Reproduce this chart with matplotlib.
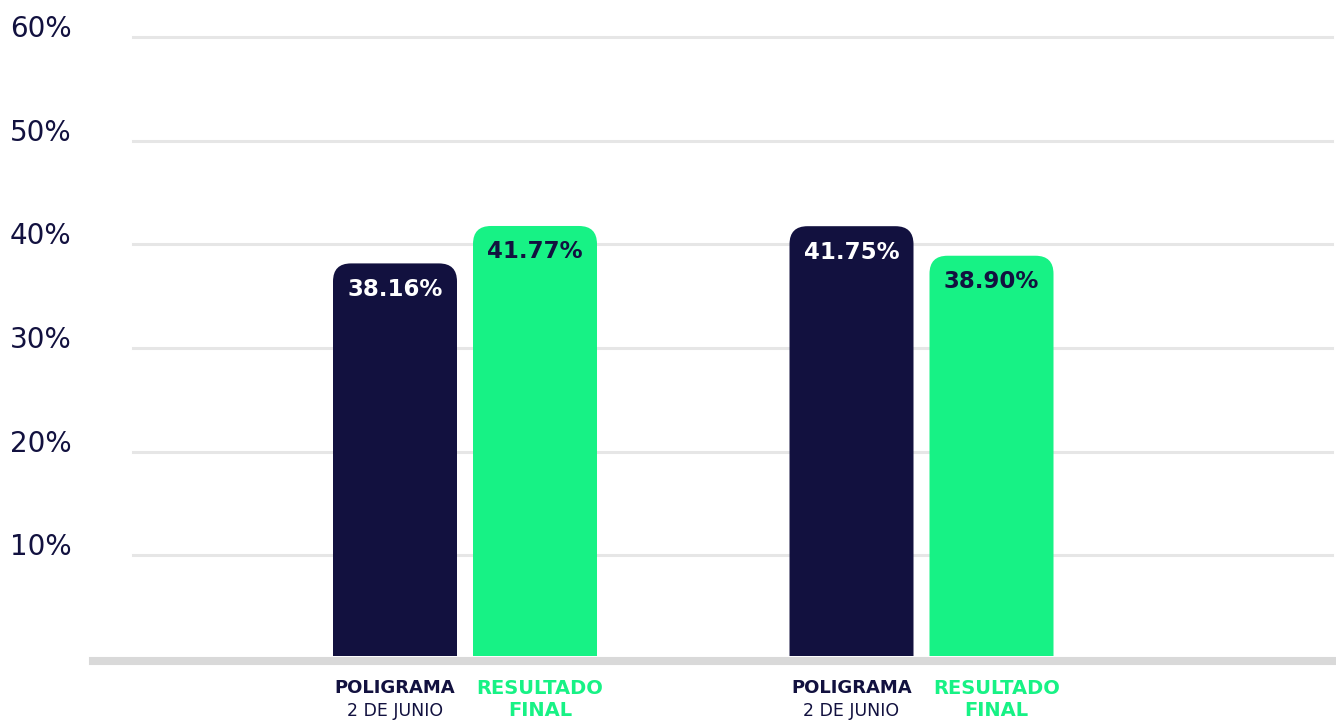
import matplotlib
matplotlib.use("Agg")
import matplotlib.pyplot as plt
from matplotlib.patches import FancyBboxPatch, Rectangle
from matplotlib.transforms import blended_transform_factory

# ---- data ----
groups = ["Grupo 1", "Grupo 2"]
series_names = [("POLIGRAMA", "2 DE JUNIO"), ("RESULTADO", "FINAL")]
poligrama = [38.16, 41.75]
resultado = [41.77, 38.90]
y_ticks = [10, 20, 30, 40, 50, 60]
y_tick_labels = ["10%", "20%", "30%", "40%", "50%", "60%"]

NAVY = "#12113f"
GREEN = "#17f285"
GRID = "#e6e6e6"
BASE = "#d9d9d9"

W, H = 1336, 721
fig = plt.figure(figsize=(W / 100, H / 100), dpi=100)
ax_left, ax_right = 133, 1332
ax_bottom_px, ax_top_px = 659, 37
ax = fig.add_axes([ax_left / W, (H - ax_bottom_px) / H,
                   (ax_right - ax_left) / W, (ax_bottom_px - ax_top_px) / H])

px_per_unit = 456.5
xlim = ((ax_left - 465) / px_per_unit, (ax_right - 465) / px_per_unit)
ax.set_xlim(*xlim)
ax.set_ylim(0, 60)
for s in ax.spines.values():
    s.set_visible(False)
ax.set_xticks([])
ax.set_yticks([])

# gridlines
for t in y_ticks:
    ax.axhline(t, color=GRID, lw=2.2, zorder=0, clip_on=False)

# y tick labels
trans = blended_transform_factory(fig.transFigure, ax.transData)
for t, lab in zip(y_ticks, y_tick_labels):
    fig.text(10 / W, t, lab, transform=trans, ha="left", va="baseline",
             fontsize=20, color=NAVY, fontfamily="DejaVu Sans")

# bars
bar_w = 124 / px_per_unit
offset = 70 / px_per_unit
radius = 18 / px_per_unit
y_per_px = 60 / (ax_bottom_px - ax_top_px)
aspect = y_per_px * px_per_unit
bottom_gap = 3 * y_per_px

clip_rect = Rectangle((xlim[0], bottom_gap), xlim[1] - xlim[0], 100,
                      transform=ax.transData)

def draw_bar(xc, val, color, txtcolor):
    p = FancyBboxPatch((xc - bar_w / 2, -5), bar_w, val + 5,
                       boxstyle=f"round,pad=0,rounding_size={radius}",
                       mutation_aspect=aspect, facecolor=color,
                       edgecolor="none", zorder=2)
    ax.add_patch(p)
    p.set_clip_path(clip_rect)
    ax.text(xc, val - 26 * y_per_px, f"{val:.2f}%", ha="center", va="center",
            fontsize=16.5, fontweight="bold", color=txtcolor, zorder=3)

for i in range(len(groups)):
    draw_bar(i - offset, poligrama[i], NAVY, "white")
    draw_bar(i + offset, resultado[i], GREEN, NAVY)

# baseline
ax.axhline(-1.5 * y_per_px, xmin=(93 - ax_left) / (ax_right - ax_left),
           xmax=(1334 - ax_left) / (ax_right - ax_left),
           color=BASE, lw=5.8, zorder=4, clip_on=False)

# x labels
lab_trans = blended_transform_factory(ax.transData, fig.transFigure)
shift = 5 / px_per_unit
for i in range(len(groups)):
    ax.text(i - offset, (H - 688) / H, series_names[0][0], transform=lab_trans,
            ha="center", va="center", fontsize=13, fontweight="bold", color=NAVY)
    ax.text(i - offset, (H - 711) / H, series_names[0][1], transform=lab_trans,
            ha="center", va="center", fontsize=12.5, color=NAVY)
    ax.text(i + offset + shift, (H - 688) / H, series_names[1][0], transform=lab_trans,
            ha="center", va="center", fontsize=14, fontweight="bold", color=GREEN)
    ax.text(i + offset + shift, (H - 711) / H, series_names[1][1], transform=lab_trans,
            ha="center", va="center", fontsize=14, fontweight="bold", color=GREEN)

fig.savefig("out.png", dpi=100, facecolor="white")
